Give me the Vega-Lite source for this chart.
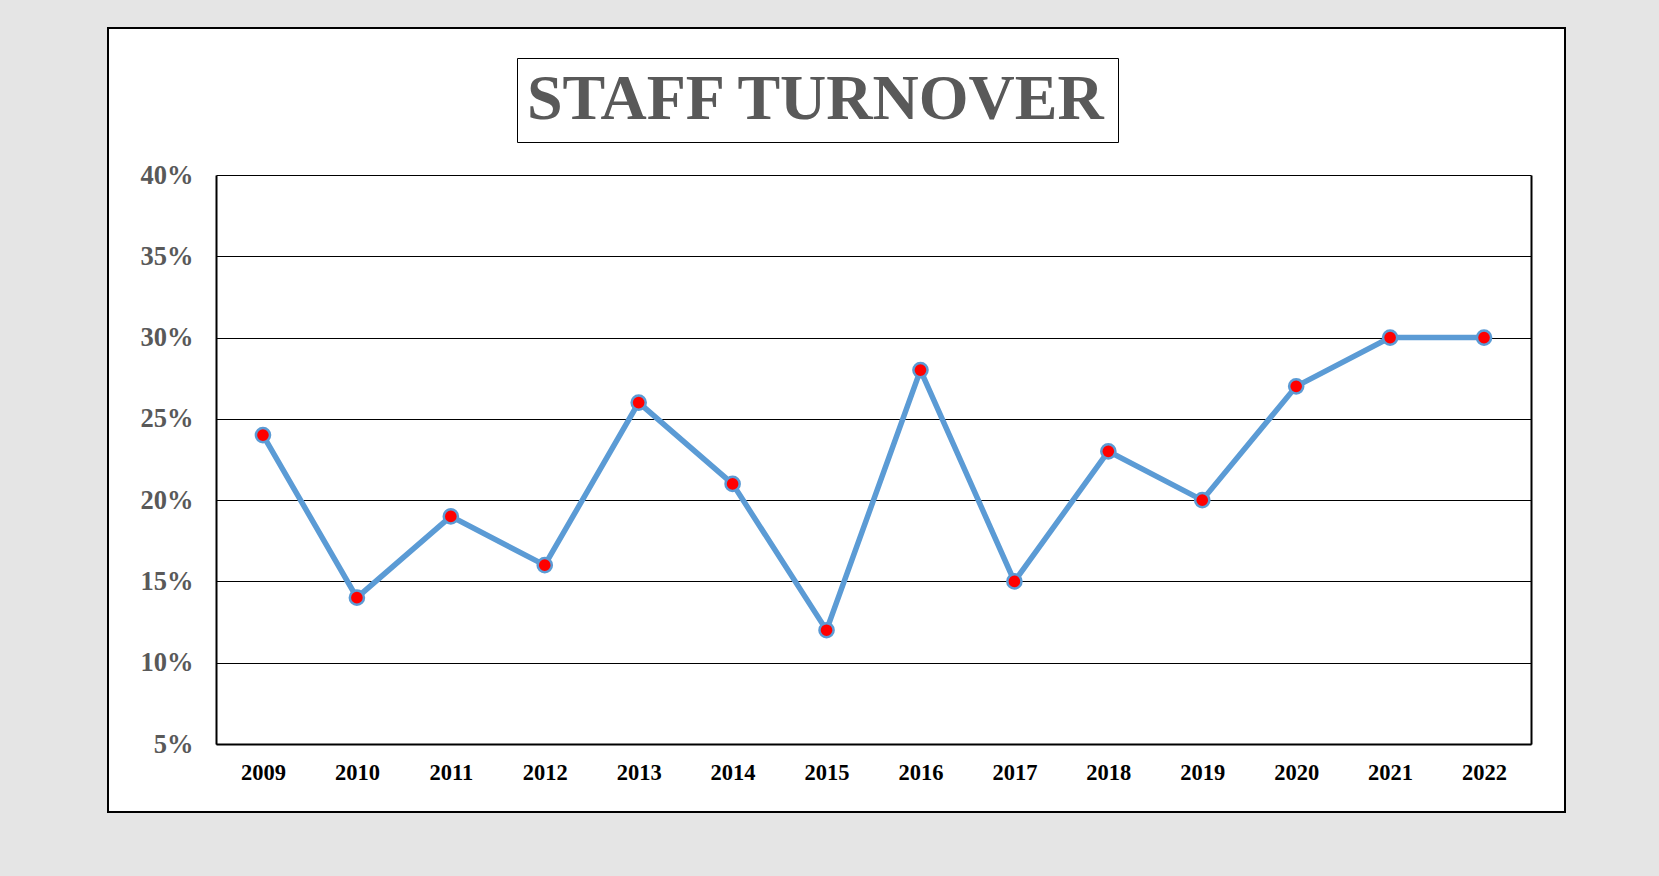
{
  "$schema": "https://vega.github.io/schema/vega-lite/v6.json",
  "autosize": {"type": "none"},
  "width": 1457,
  "height": 784,
  "padding": {"left": 108, "top": 28, "right": 94, "bottom": 64},
  "background": "#e5e5e5",
  "view": {"fill": "white", "stroke": "black", "strokeWidth": 2},
  "data": {
    "values": [
      {"year": "2009", "rate": 0.24},
      {"year": "2010", "rate": 0.14},
      {"year": "2011", "rate": 0.19},
      {"year": "2012", "rate": 0.16},
      {"year": "2013", "rate": 0.26},
      {"year": "2014", "rate": 0.21},
      {"year": "2015", "rate": 0.12},
      {"year": "2016", "rate": 0.28},
      {"year": "2017", "rate": 0.15},
      {"year": "2018", "rate": 0.23},
      {"year": "2019", "rate": 0.20},
      {"year": "2020", "rate": 0.27},
      {"year": "2021", "rate": 0.30},
      {"year": "2022", "rate": 0.30}
    ]
  },
  "encoding": {
    "x": {
      "field": "year",
      "type": "ordinal",
      "scale": {"type": "point", "range": [108, 1423], "padding": 0.5},
      "axis": {
        "title": null,
        "offset": -68,
        "labelAngle": 0,
        "labelFont": "Liberation Serif",
        "labelFontWeight": "bold",
        "labelFontSize": 22.5,
        "labelColor": "black",
        "labelPadding": 17,
        "ticks": false,
        "tickSize": 0,
        "domain": true,
        "domainColor": "black",
        "domainWidth": 2,
        "grid": false
      }
    }
  },
  "layer": [
    {
      "mark": {"type": "line", "color": "#5b9bd5", "strokeWidth": 5.5},
      "encoding": {
        "y": {
          "field": "rate",
          "type": "quantitative",
          "scale": {"domain": [0.05, 0.4], "range": [716, 147], "zero": false, "nice": false},
          "axis": {
            "title": null,
            "orient": "left",
            "offset": -108,
            "values": [0.05, 0.1, 0.15, 0.2, 0.25, 0.3, 0.35, 0.4],
            "format": ".0%",
            "labelFont": "Liberation Serif",
            "labelFontWeight": "bold",
            "labelFontSize": 26.5,
            "labelColor": "#595959",
            "labelPadding": 23,
            "ticks": false,
            "tickSize": 0,
            "domain": true,
            "domainColor": "black",
            "domainWidth": 2,
            "grid": true,
            "gridColor": "black",
            "gridWidth": 1,
            "gridOpacity": 1
          }
        }
      }
    },
    {
      "mark": {"type": "point", "filled": true, "shape": "circle", "size": 200, "stroke": "#5b9bd5", "strokeWidth": 2.5, "opacity": 1},
      "encoding": {
        "y": {
          "field": "rate",
          "type": "quantitative",
          "scale": {"domain": [0.05, 0.4], "range": [716, 147], "zero": false, "nice": false},
          "axis": {
            "title": null,
            "orient": "right",
            "offset": -34,
            "labels": false,
            "ticks": false,
            "grid": false,
            "domain": true,
            "domainColor": "black",
            "domainWidth": 2
          }
        },
        "fill": {
          "datum": "STAFF TURNOVER",
          "type": "nominal",
          "scale": {"range": ["#ff0000"]},
          "legend": {
            "title": null,
            "orient": "none",
            "legendX": 409,
            "legendY": 30,
            "fillColor": "white",
            "strokeColor": "black",
            "padding": 10,
            "cornerRadius": 0,
            "symbolSize": 0,
            "symbolStrokeWidth": 0,
            "symbolOpacity": 0,
            "labelOffset": -64,
            "labelLimit": 0,
            "labelFont": "Liberation Serif",
            "labelFontWeight": "bold",
            "labelFontSize": 64,
            "labelColor": "#595959",
            "encode": {
              "legend": {"update": {"strokeWidth": {"value": 2}}},
              "labels": {"update": {"dy": {"value": 5}}}
            }
          }
        }
      }
    }
  ],
  "resolve": {"axis": {"y": "independent"}}
}
